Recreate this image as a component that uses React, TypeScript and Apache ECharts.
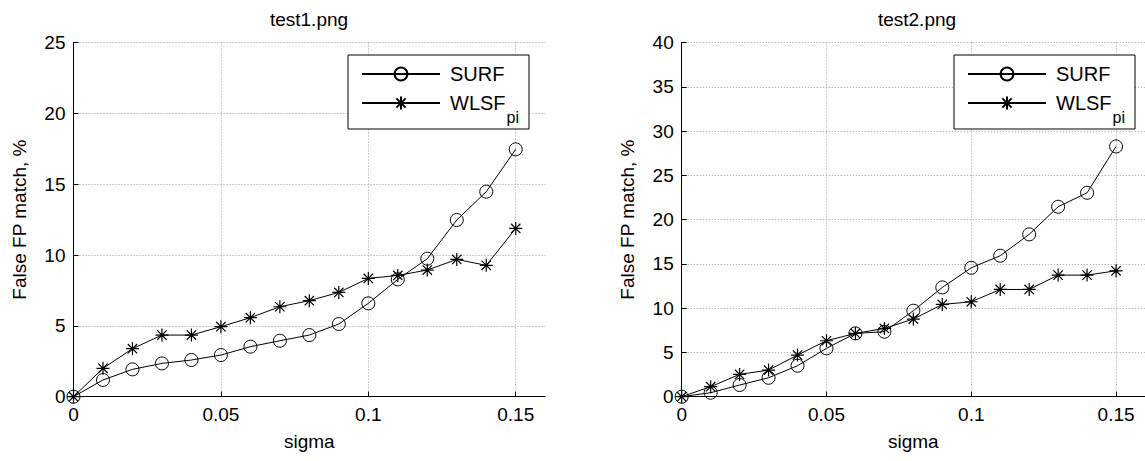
import React, { useEffect, useRef } from 'react';
import * as echarts from 'echarts';

const sigma = [0, 0.01, 0.02, 0.03, 0.04, 0.05, 0.06, 0.07, 0.08, 0.09, 0.1, 0.11, 0.12, 0.13, 0.14, 0.15];
const surfTest1 = [0, 1.18, 1.93, 2.35, 2.59, 2.94, 3.53, 3.95, 4.35, 5.13, 6.59, 8.28, 9.74, 12.47, 14.47, 17.46];
const wlsfTest1 = [0, 2.0, 3.39, 4.35, 4.35, 4.94, 5.58, 6.35, 6.78, 7.36, 8.35, 8.56, 8.94, 9.69, 9.27, 11.88];
const surfTest2 = [0, 0.45, 1.32, 2.14, 3.5, 5.46, 7.15, 7.34, 9.71, 12.34, 14.56, 15.92, 18.33, 21.45, 23.03, 28.26];
const wlsfTest2 = [0, 1.13, 2.52, 3.01, 4.7, 6.32, 7.15, 7.71, 8.77, 10.42, 10.72, 12.11, 12.11, 13.73, 13.73, 14.22];
const xTicks = [0, 0.05, 0.1, 0.15];
const titles = ['test1.png', 'test2.png'];
const yMax = [25, 40];
const seriesNames = ['SURF', 'WLSFpi'];
const xName = 'sigma';
const yName = 'False FP match, %';

const FONT = '"Liberation Sans", Arial, Helvetica, sans-serif';
const STAR = 'path://M0,-1L0,1M-1,0L1,0M-0.72,-0.72L0.72,0.72M-0.72,0.72L0.72,-0.72';

const panels = [
  { left: 73.5, width: 471.7, center: 309, legendLeft: 348 },
  { left: 681.7, width: 470.4, center: 917, legendLeft: 954 },
];

export default function App() {
  const ref = useRef<HTMLDivElement>(null);
  useEffect(() => {
    if (!ref.current) return;
    const chart = echarts.init(ref.current, null, { renderer: 'svg' });
    const data = [
      [surfTest1, wlsfTest1],
      [surfTest2, wlsfTest2],
    ];
    const grid = panels.map((p) => ({ left: p.left, top: 42.5, width: p.width, height: 354.2 }));
    const xAxis = panels.map((p, i) => ({
      type: 'value',
      gridIndex: i,
      min: 0,
      max: 0.16,
      interval: 0.05,
      name: xName,
      nameLocation: 'middle',
      nameGap: 35,
      nameTextStyle: { fontSize: 19, color: '#000', fontFamily: FONT },
      axisLine: { show: true, onZero: false, lineStyle: { color: '#000', width: 1 } },
      axisTick: { show: true, inside: true, length: 5, lineStyle: { color: '#000' }, customValues: xTicks },
      axisLabel: { show: true, customValues: xTicks, margin: 8, fontSize: 19, color: '#000', fontFamily: FONT, formatter: (v: number) => String(Number(v.toFixed(2))) },
      splitLine: { show: true, lineStyle: { color: '#9a9a9a', type: [1, 2], width: 1 } },
    }));
    const yAxis = panels.map((p, i) => ({
      type: 'value',
      gridIndex: i,
      min: 0,
      max: yMax[i],
      interval: 5,
      name: yName,
      nameLocation: 'middle',
      nameGap: 45,
      nameTextStyle: { fontSize: 19, color: '#000', fontFamily: FONT },
      axisLine: { show: true, lineStyle: { color: '#000', width: 1 } },
      axisTick: { show: true, inside: true, length: 5, lineStyle: { color: '#000' } },
      axisLabel: { show: true, margin: 8, fontSize: 19, color: '#000', fontFamily: FONT },
      splitLine: { show: true, lineStyle: { color: '#9a9a9a', type: [1, 2], width: 1 } },
    }));
    const series: any[] = [];
    panels.forEach((p, i) => {
      series.push({
        type: 'line',
        name: seriesNames[0],
        xAxisIndex: i,
        yAxisIndex: i,
        data: sigma.map((s, k) => [s, data[i][0][k]]),
        symbol: 'circle',
        symbolSize: 13,
        lineStyle: { color: '#000', width: 1 },
        itemStyle: { color: 'rgba(0,0,0,0)', borderColor: '#000', borderWidth: 1 },
        emphasis: { disabled: true },
      });
      series.push({
        type: 'line',
        name: seriesNames[1],
        xAxisIndex: i,
        yAxisIndex: i,
        data: sigma.map((s, k) => [s, data[i][1][k]]),
        symbol: STAR,
        symbolSize: 13,
        lineStyle: { color: '#000', width: 1 },
        itemStyle: { color: 'rgba(0,0,0,0)', borderColor: '#000', borderWidth: 1.2 },
        emphasis: { disabled: true },
      });
    });
    const legend = panels.map((p) => ({
      data: seriesNames,
      orient: 'vertical',
      left: p.legendLeft,
      top: 55,
      itemWidth: 78,
      itemHeight: 16,
      itemGap: 9,
      padding: [9, 10, 4, 13],
      borderColor: '#000',
      borderWidth: 1,
      borderRadius: 0,
      backgroundColor: '#fff',
      selectedMode: false,
      formatter: (name: string) => (name === 'WLSFpi' ? '{m|WLSF}{s|pi}' : '{m|SURF}'),
      textStyle: {
        fontSize: 20,
        color: '#000',
        fontFamily: FONT,
        padding: [0, 0, 0, 5],
        rich: {
          m: { fontSize: 20, color: '#000', fontFamily: FONT },
          s: { fontSize: 16, color: '#000', fontFamily: FONT, padding: [28, 0, 0, 1] },
        },
      },
    }));
    chart.setOption({
      animation: false,
      backgroundColor: '#fff',
      textStyle: { fontFamily: FONT },
      title: panels.map((p, i) => ({
        text: titles[i],
        left: p.center,
        top: 10,
        padding: 0,
        textAlign: 'center',
        textStyle: { fontSize: 19, fontWeight: 'normal', color: '#000', fontFamily: FONT },
      })),
      legend,
      grid,
      xAxis,
      yAxis,
      series,
    });
    return () => chart.dispose();
  }, []);
  return <div ref={ref} style={{ position: 'fixed', left: 0, top: 0, width: 1145, height: 461 }} />;
}
